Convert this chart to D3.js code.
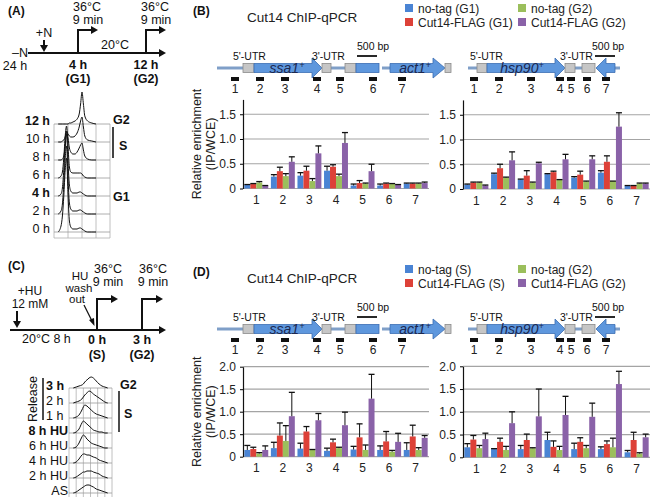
<!DOCTYPE html>
<html><head><meta charset="utf-8">
<script src="https://cdn.jsdelivr.net/npm/d3@7"></script>
<style>body{margin:0;background:#fff}svg{font-family:Arial,"Liberation Sans",sans-serif}</style>
</head><body><svg id="c" width="654" height="498"></svg>
<script>
// ---------- DATA ----------
const categories = ["1","2","3","4","5","6","7"];
const colors = ["#4a84d4","#dd4138","#9bbf5c","#8a62a8"];
const legendB = ["no-tag (G1)","Cut14-FLAG (G1)","no-tag (G2)","Cut14-FLAG (G2)"];
const legendD = ["no-tag (S)","Cut14-FLAG (S)","no-tag (G2)","Cut14-FLAG (G2)"];
const ticksB = [0,0.5,1.0,1.5];
const ticksD = [0,0.5,1.0,1.5,2.0];

// Panel B, ssa1/act1 (values, upper error)
const bSsaNoTagG1 = [0.07,0.24,0.26,0.36,0.06,0.06,0.10];
const bSsaNoTagG1Err = [0.01,0.04,0.06,0.09,0.03,0.03,0.01];
const bSsaFlagG1 = [0.09,0.35,0.36,0.44,0.11,0.10,0.10];
const bSsaFlagG1Err = [0.01,0.08,0.09,0.04,0.05,0.01,0.01];
const bSsaNoTagG2 = [0.12,0.25,0.15,0.25,0.10,0.09,0.10];
const bSsaNoTagG2Err = [0.02,0.05,0.05,0.04,0.01,0.01,0.01];
const bSsaFlagG2 = [0.05,0.54,0.71,0.92,0.35,0.07,0.11];
const bSsaFlagG2Err = [0.01,0.10,0.15,0.21,0.14,0.01,0.02];
// Panel B, hsp90
const bHspNoTagG1 = [0.09,0.30,0.19,0.30,0.23,0.33,0.06];
const bHspNoTagG1Err = [0.01,0.02,0.01,0.01,0.02,0.04,0.01];
const bHspFlagG1 = [0.13,0.42,0.27,0.34,0.29,0.55,0.06];
const bHspFlagG1Err = [0.01,0.08,0.10,0.02,0.07,0.12,0.01];
const bHspNoTagG2 = [0.13,0.23,0.13,0.19,0.15,0.16,0.11];
const bHspNoTagG2Err = [0.01,0.01,0.01,0.00,0.01,0.00,0.01];
const bHspFlagG2 = [0.07,0.58,0.52,0.60,0.60,1.26,0.11];
const bHspFlagG2Err = [0.01,0.17,0.02,0.10,0.07,0.28,0.01];
// Panel D, ssa1/act1
const dSsaNoTagS = [0.15,0.19,0.18,0.13,0.16,0.15,0.15];
const dSsaNoTagSErr = [0.10,0.13,0.12,0.06,0.07,0.09,0.16];
const dSsaFlagS = [0.17,0.47,0.56,0.32,0.43,0.34,0.45];
const dSsaFlagSErr = [0.04,0.28,0.11,0.07,0.30,0.22,0.25];
const dSsaNoTagG2 = [0.07,0.35,0.15,0.19,0.15,0.11,0.15];
const dSsaNoTagG2Err = [0.02,0.34,0.01,0.02,0.11,0.03,0.05];
const dSsaFlagG2 = [0.15,0.90,0.81,0.70,1.29,0.33,0.42];
const dSsaFlagG2Err = [0.09,0.53,0.15,0.29,0.54,0.19,0.05];
// Panel D, hsp90
const dHspNoTagS = [0.22,0.18,0.18,0.38,0.18,0.18,0.11];
const dHspNoTagSErr = [0.08,0.01,0.08,0.17,0.13,0.05,0.04];
const dHspFlagS = [0.39,0.34,0.38,0.23,0.34,0.29,0.38];
const dHspFlagSErr = [0.09,0.08,0.13,0.13,0.09,0.07,0.17];
const dHspNoTagG2 = [0.20,0.16,0.20,0.16,0.20,0.22,0.08];
const dHspNoTagG2Err = [0.06,0.08,0.01,0.08,0.06,0.20,0.02];
const dHspFlagG2 = [0.40,0.75,0.90,0.93,0.89,1.61,0.44];
const dHspFlagG2Err = [0.13,0.25,0.60,0.41,0.30,0.28,0.07];

// Flow cytometry (A): DNA content bins and counts per time point
const flowBinsA = [0.3,0.5,0.6,0.7,0.8,0.9,1.0,1.1,1.2,1.35,1.5,1.65,1.8,1.9,2.0,2.1,2.2,2.4,2.7,3.0];
const flowLabelsA = ["12 h","10 h","8 h","6 h","4 h","2 h","0 h"];
const flowBoldA = [true,false,false,false,true,false,false];
const flow12h = [0,0,0,0,0,0,0,1,1,2,3,5,10,20,32,20,8,3,1,0];
const flow10h = [0,0,1,2,5,10,8,6,5,5,6,9,15,21,25,15,6,2,1,0];
const flow8h  = [0,0,1,4,14,29,22,12,8,6,6,8,12,15,17,10,4,1,0,0];
const flow6h  = [0,2,6,20,42,52,32,11,6,5,5,5,5,5,4,2,1,0,0,0];
const flow4h  = [0,2,8,26,50,62,34,11,5,3,3,3,4,4,3,2,1,0,0,0];
const flow2h  = [0,3,10,30,56,68,36,11,5,3,3,3,4,4,3,2,1,0,0,0];
const flow0h  = [0,6,16,36,62,74,38,11,5,3,3,3,4,4,3,2,1,0,0,0];
// Flow cytometry (C)
const flowBinsC = [0.6,1.0,1.4,1.8,2.0,2.2,2.5,2.8,3.1,3.4,3.8,4.2,4.6,5.0,5.4];
const flowLabelsC = ["3 h","2 h","1 h","8 h HU","6 h HU","4 h HU","2 h HU","AS"];
const flowBoldC = [true,false,false,true,false,false,false,false];
const flowR3h  = [0,1,2,3,4,6,8,10,11,10,7,4,2,1,0];
const flowR2h  = [0,1,2,4,6,8,10,12,11,9,7,5,3,1,0];
const flowR1h  = [0,1,3,8,11,13,12,10,8,6,4,3,2,1,0];
const flowHU8  = [0,1,4,10,12,11,9,7,5,3,2,1,1,0,0];
const flowHU6  = [0,1,5,11,13,12,9,7,5,4,3,2,1,0,0];
const flowHU4  = [0,1,4,8,9,9,8,8,7,6,5,3,2,1,0];
const flowHU2  = [0,1,3,5,6,6,7,7,7,6,5,4,2,1,0];
const flowAS   = [0,1,3,5,6,7,8,8,7,6,4,3,2,1,0];

// ---------- DRAW ----------
const svg = d3.select("#c");
const FONT = 'Arial,"Liberation Sans",sans-serif';

function txt(x,y,s,opt={}){
  const t = svg.append("text").attr("x",x).attr("y",y).text(s)
    .attr("font-size",opt.size||12).attr("fill",opt.fill||"#111")
    .attr("text-anchor",opt.anchor||"start");
  if(opt.bold) t.attr("font-weight","bold");
  if(opt.italic) t.attr("font-style","italic");
  return t;
}
function arrowHead(x,y,dir,size=5){
  let pts;
  if(dir==="r") pts=[[x,y],[x-size*1.4,y-size*0.8],[x-size*1.4,y+size*0.8]];
  else pts=[[x,y],[x-size*0.8,y-size*1.4],[x+size*0.8,y-size*1.4]];
  svg.append("polygon").attr("points",pts.map(p=>p.join(",")).join(" ")).attr("fill","#111");
}
function ln(x1,y1,x2,y2,w=2,c="#111"){
  svg.append("line").attr("x1",x1).attr("y1",y1).attr("x2",x2).attr("y2",y2)
    .attr("stroke",c).attr("stroke-width",w);
}

// Bar chart
function barChart(cfg){
  const g = svg.append("g");
  const x = d3.scaleBand().domain(categories).range([cfg.x0,cfg.x1]).paddingInner(0.1).paddingOuter(0.05);
  const xs = d3.scaleBand().domain(d3.range(cfg.series.length)).range([0,x.bandwidth()]);
  const y = d3.scaleLinear().domain([0,cfg.ymax]).range([cfg.y0,cfg.yTop]);
  g.selectAll("line.grid").data(cfg.ticks).join("line").attr("class","grid")
    .attr("x1",cfg.x0).attr("x2",cfg.x1).attr("y1",d=>y(d)).attr("y2",d=>y(d))
    .attr("stroke","#a4a4a4").attr("stroke-width",1.2);
  cfg.series.forEach((s,i)=>{
    g.selectAll(null).data(s.v).join("rect")
      .attr("x",(d,j)=>x(categories[j])+xs(i)).attr("width",xs.bandwidth())
      .attr("y",d=>y(d)).attr("height",d=>cfg.y0-y(d)).attr("fill",colors[i]);
  });
  cfg.series.forEach((s,i)=>{
    const eg = g.selectAll(null).data(s.v).join("g");
    eg.append("line")
      .attr("x1",(d,j)=>x(categories[j])+xs(i)+xs.bandwidth()/2)
      .attr("x2",(d,j)=>x(categories[j])+xs(i)+xs.bandwidth()/2)
      .attr("y1",d=>y(d)).attr("y2",(d,j)=>y(d+s.e[j])).attr("stroke","#111").attr("stroke-width",1);
    eg.append("line")
      .attr("x1",(d,j)=>x(categories[j])+xs(i)+xs.bandwidth()/2-3)
      .attr("x2",(d,j)=>x(categories[j])+xs(i)+xs.bandwidth()/2+3)
      .attr("y1",(d,j)=>y(d+s.e[j])).attr("y2",(d,j)=>y(d+s.e[j])).attr("stroke","#111").attr("stroke-width",1.3);
  });
  const ay = g.append("g").attr("transform",`translate(${cfg.x0},0)`)
    .call(d3.axisLeft(y).tickValues(cfg.ticks).tickFormat(d=>d===0?"0":d.toFixed(1)).tickSize(3).tickSizeOuter(0).tickPadding(4));
  ay.select(".domain").attr("stroke","#111").attr("stroke-width",1.2);
  ay.selectAll("text").attr("font-size",12).attr("fill","#222").attr("font-family",FONT);
  const ax = g.append("g").attr("transform",`translate(0,${cfg.y0})`)
    .call(d3.axisBottom(x).tickSize(0).tickPadding(7));
  ax.select(".domain").remove();
  ax.selectAll("text").attr("font-size",12).attr("fill","#222").attr("font-family",FONT);
  if(cfg.title){
    const cy=(cfg.y0+cfg.yTop)/2;
    svg.append("text").attr("transform",`translate(201,${cy}) rotate(-90)`).attr("text-anchor","middle")
      .attr("font-size",12.5).attr("fill","#222").text("Relative enrichment");
    svg.append("text").attr("transform",`translate(215,${cy}) rotate(-90)`).attr("text-anchor","middle")
      .attr("font-size",12.5).attr("fill","#222").text("(IP/WCE)");
  }
}

// Gene diagrams
function geneArrow(xa,xb,xt,cy){
  const pts = [[xa,cy-4.5],[xb,cy-4.5],[xb,cy-10],[xt,cy],[xb,cy+10],[xb,cy+4.5],[xa,cy+4.5]];
  svg.append("polygon").attr("points",pts.map(p=>p.join(",")).join(" "))
    .attr("fill","#5e97dd").attr("stroke","#3b6db3").attr("stroke-width",0.8);
}
function grayBox(x1,x2,cy){
  svg.append("rect").attr("x",x1).attr("y",cy-4.5).attr("width",x2-x1).attr("height",9)
    .attr("fill","#c6c6c6").attr("stroke","#8a8a8a").attr("stroke-width",0.8);
}
function blueRect(x1,x2,cy){
  svg.append("rect").attr("x",x1).attr("y",cy-4.5).attr("width",x2-x1).attr("height",9)
    .attr("fill","#5e97dd").attr("stroke","#3b6db3").attr("stroke-width",0.8);
}
function geneName(x,y,name){
  const t = svg.append("text").attr("x",x).attr("y",y).attr("text-anchor","middle")
    .attr("font-size",14).attr("font-style","italic").attr("fill","#1c2850");
  t.append("tspan").text(name);
  t.append("tspan").text("+").attr("font-size",9).attr("dy",-5);
}
function genes(off){
  const cy = 68+off;
  const lc="#7f9fc8";
  [[217,244],[330,346],[382,391],[468,478],[574,583],[614,620]].forEach(s=>ln(s[0],cy,s[1],cy,3,lc));
  grayBox(243,254,cy);
  geneArrow(254,312,322,cy);
  grayBox(322,331,cy);
  grayBox(345,356,cy);
  blueRect(356,379,cy);
  geneArrow(390,433,445,cy);
  grayBox(445,451,cy);
  grayBox(477,487,cy);
  geneArrow(487,555,565,cy);
  grayBox(565,575,cy);
  grayBox(582,595,cy);
  geneArrow(615,606,596,cy);
  geneName(287,cy+5,"ssa1");
  geneName(415,cy+5,"act1");
  geneName(522,cy+5,"hsp90");
  txt(233,cy-8,"5'-UTR",{size:10.5});
  txt(312,cy-8,"3'-UTR",{size:10.5});
  txt(470,cy-8,"5'-UTR",{size:10.5});
  txt(560,cy-8,"3'-UTR",{size:10.5});
  txt(357,cy-18,"500 bp",{size:10.5});
  txt(592,cy-18,"500 bp",{size:10.5});
  ln(357,cy-12,377,cy-12,1.8);
  ln(595,cy-12,615,cy-12,1.8);
  const pL=[235,260,285,317,340,373,402], pR=[474,499,531,560,571,587,606];
  [pL,pR].forEach(arr=>arr.forEach((px,i)=>{
    svg.append("rect").attr("x",px-4).attr("y",cy+9).attr("width",8).attr("height",4).attr("fill","#111");
    txt(px,cy+25,String(i+1),{anchor:"middle",size:12,fill:"#222"});
  }));
}
function legend(off,names){
  const pos=[[405,8],[405,22],[518,8],[518,22]];
  names.forEach((n,i)=>{
    svg.append("rect").attr("x",pos[i][0]).attr("y",pos[i][1]+off-4).attr("width",8).attr("height",8).attr("fill",colors[i]);
    txt(pos[i][0]+13,pos[i][1]+off+4.5,n,{size:12,fill:"#222"});
  });
  txt(247,off+22,"Cut14 ChIP-qPCR",{size:13.5,fill:"#222"});
}

// ---- Panel B ----
txt(193,15,"(B)",{bold:true});
legend(0,legendB);
genes(0);
barChart({x0:243,x1:429,y0:188.5,yTop:99.4,ymax:1.8,ticks:ticksB,title:true,
  series:[{v:bSsaNoTagG1,e:bSsaNoTagG1Err},{v:bSsaFlagG1,e:bSsaFlagG1Err},{v:bSsaNoTagG2,e:bSsaNoTagG2Err},{v:bSsaFlagG2,e:bSsaFlagG2Err}]});
barChart({x0:463,x1:650,y0:189,yTop:99.9,ymax:1.8,ticks:ticksB,
  series:[{v:bHspNoTagG1,e:bHspNoTagG1Err},{v:bHspFlagG1,e:bHspFlagG1Err},{v:bHspNoTagG2,e:bHspNoTagG2Err},{v:bHspFlagG2,e:bHspFlagG2Err}]});

// ---- Panel D ----
txt(193,276,"(D)",{bold:true});
legend(261,legendD);
genes(261);
barChart({x0:243,x1:429,y0:456.7,yTop:366.7,ymax:2.0,ticks:ticksD,title:true,
  series:[{v:dSsaNoTagS,e:dSsaNoTagSErr},{v:dSsaFlagS,e:dSsaFlagSErr},{v:dSsaNoTagG2,e:dSsaNoTagG2Err},{v:dSsaFlagG2,e:dSsaFlagG2Err}]});
barChart({x0:463,x1:650,y0:457.3,yTop:366.3,ymax:2.0,ticks:ticksD,
  series:[{v:dHspNoTagS,e:dHspNoTagSErr},{v:dHspFlagS,e:dHspFlagSErr},{v:dHspNoTagG2,e:dHspNoTagG2Err},{v:dHspFlagG2,e:dHspFlagG2Err}]});

// ---- Panel A timeline ----
txt(8,15,"(A)",{bold:true});
ln(28,53,160,53,2); arrowHead(166,53,"r");
txt(28,57,"\u2013N",{anchor:"end",size:12.5});
txt(15,70,"24 h",{anchor:"middle",size:12.5});
txt(44,37,"+N",{anchor:"middle",size:12.5});
ln(44,40,44,46,2); arrowHead(44,52,"d");
[[78,92,"4 h","(G1)"],[146,160,"12 h","(G2)"]].forEach(s=>{
  ln(s[0],54,s[0],30,2); ln(s[0]-1,30,s[1],30,2); arrowHead(s[1]+6,30,"r");
  txt(s[0]+9,11,"36\u00b0C",{anchor:"middle",size:12.5});
  txt(s[0]+10,24,"9 min",{anchor:"middle",size:12.5});
  txt(s[0],69,s[2],{anchor:"middle",bold:true,size:12.5});
  txt(s[0],83,s[3],{anchor:"middle",bold:true,size:12.5});
});
txt(115,49,"20\u00b0C",{anchor:"middle",size:12.5});

// ---- Panel A flow ----
(function(){
  const fx = d3.scaleLinear().domain([0,4]).range([54,110]);
  const fy = d3.scaleLinear().domain([0,100]).range([0,100]);
  const bases=[124,142,160,178,196,214,232];
  const rows=[flow12h,flow10h,flow8h,flow6h,flow4h,flow2h,flow0h];
  [0,1,2,3,4].forEach(v=>ln(fx(v),124,fx(v),238,0.8,"#b0b0b0"));
  bases.forEach(b=>ln(fx(0),b,fx(4),b,0.8,"#9a9a9a"));
  ln(fx(0),238,fx(4),238,0.8,"#b0b0b0");
  rows.forEach((r,i)=>{
    const line=d3.line().x((d,j)=>fx(flowBinsA[j])).y(d=>bases[i]-fy(d)).curve(d3.curveMonotoneX);
    svg.append("path").attr("d",line(r)).attr("fill","none").attr("stroke","#111").attr("stroke-width",1);
    txt(50,bases[i]+1,flowLabelsA[i],{anchor:"end",bold:flowBoldA[i],size:12.5});
  });
  txt(113,124,"G2",{bold:true,size:12.5});
  ln(113,127,113,158,2,"#444");
  txt(119,150,"S",{bold:true,size:12.5});
  txt(113,201,"G1",{bold:true,size:12.5});
})();

// ---- Panel C timeline ----
txt(8,270,"(C)",{bold:true});
ln(10,330,160,330,2); arrowHead(166,330,"r");
txt(30,295,"+HU",{anchor:"middle",size:12});
txt(30,308,"12 mM",{anchor:"middle",size:12});
ln(17,311,17,322,2); arrowHead(17,328,"d");
txt(80,280,"HU",{anchor:"middle",size:11.5});
txt(79,291.5,"wash",{anchor:"middle",size:11.5});
txt(77,303,"out",{anchor:"middle",size:11.5});
ln(84,305,92,321,1.3);
svg.append("polygon").attr("points","94.5,326 89,320 94,318").attr("fill","#111");
[[97,112,"0 h","(S)"],[142,157,"3 h","(G2)"]].forEach(s=>{
  ln(s[0],331,s[0],299,2); ln(s[0]-1,299,s[1],299,2); arrowHead(s[1]+6,299,"r");
  txt(s[0]+11,273,"36\u00b0C",{anchor:"middle",size:12.5});
  txt(s[0]+11,286,"9 min",{anchor:"middle",size:12.5});
  txt(s[0],344,s[2],{anchor:"middle",bold:true,size:12.5});
  txt(s[0],359,s[3],{anchor:"middle",bold:true,size:12.5});
});
txt(22,343,"20\u00b0C  8 h",{size:12.5});

// ---- Panel C flow ----
(function(){
  const fx = d3.scaleLinear().domain([0,6]).range([69,112]);
  const fy = d3.scaleLinear().domain([0,20]).range([0,20]);
  const bases=[388,403,418,433,448,463,478,493];
  const rows=[flowR3h,flowR2h,flowR1h,flowHU8,flowHU6,flowHU4,flowHU2,flowAS];
  [0,1,2,3,4,5,6].forEach(v=>ln(fx(v),388,fx(v),497,0.8,"#b0b0b0"));
  bases.forEach(b=>ln(fx(0),b,fx(6),b,0.8,"#9a9a9a"));
  rows.forEach((r,i)=>{
    const line=d3.line().x((d,j)=>fx(flowBinsC[j])).y(d=>bases[i]-fy(d)).curve(d3.curveMonotoneX);
    svg.append("path").attr("d",line(r)).attr("fill","none").attr("stroke","#111").attr("stroke-width",1);
    if(i<3) txt(46,bases[i]+2,flowLabelsC[i],{bold:flowBoldC[i],size:12.5});
    else txt(68,bases[i]+2,flowLabelsC[i],{anchor:"end",bold:flowBoldC[i],size:12.5});
  });
  svg.append("text").attr("transform","translate(37,399) rotate(-90)").attr("text-anchor","middle")
    .attr("font-size",12.5).attr("fill","#111").text("Release");
  ln(43,378,43,420,1.5);
  txt(120,389,"G2",{bold:true,size:12.5});
  ln(119,391,119,432,1.5);
  txt(124,418,"S",{bold:true,size:12.5});
})();
</script></body></html>
